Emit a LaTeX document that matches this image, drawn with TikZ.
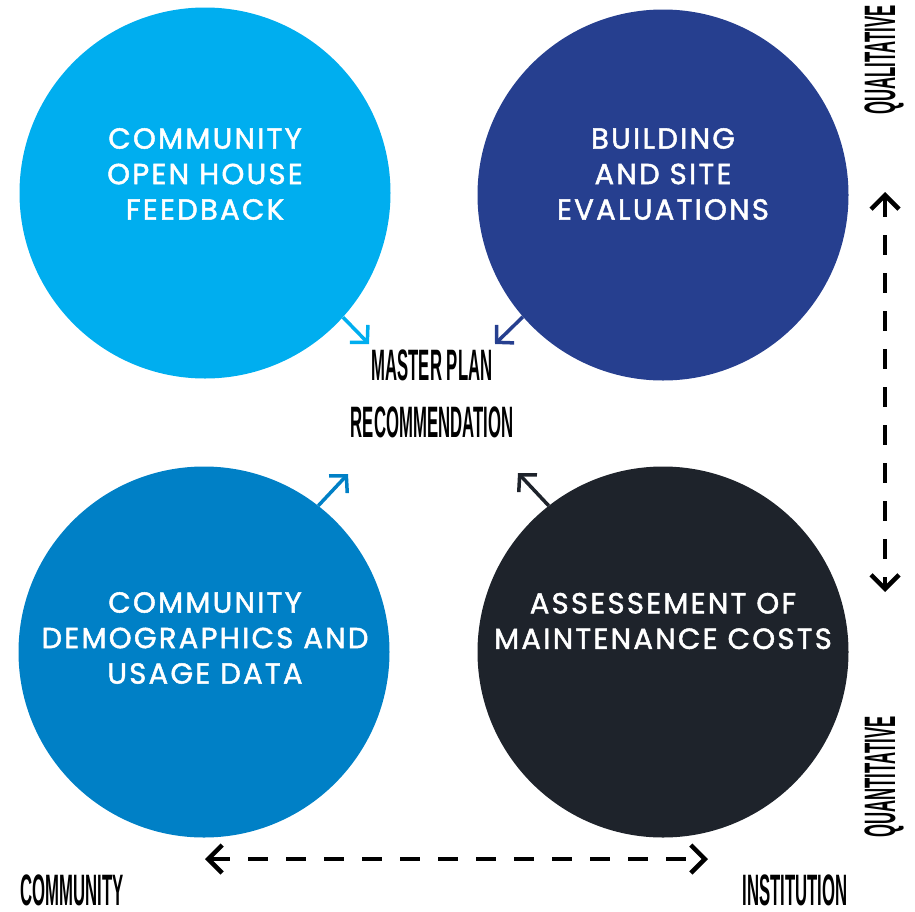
\documentclass[tikz,border=0pt]{standalone}
\usepackage{fontspec}
\setmainfont{Poppins}
\newfontfamily\circfont[FakeBold=1.7,LetterSpace=8]{Poppins}
\newfontfamily\condfont[FakeStretch=0.38]{Liberation Sans}
\usetikzlibrary{arrows.meta}
\definecolor{cTL}{HTML}{00AEEF}
\definecolor{cTR}{HTML}{263F8F}
\definecolor{cBL}{HTML}{0080C6}
\definecolor{cBR}{HTML}{1E232B}
\tikzset{
  bigcirc/.style={circle, minimum size=371pt, inner sep=0pt, draw=none},
  circtext/.style={text=white, align=center, font=\circfont\fontsize{29}{35.5}\selectfont},
  condlabel/.style={font=\condfont\bfseries\fontsize{44}{50}\selectfont, inner sep=0pt},
  smallarrow/.style={line width=3.5pt, -{Straight Barb[length=12pt,width=25pt]}},
  axisarrow/.style={line width=4.5pt, dash pattern=on 20pt off 18pt,
    {Straight Barb[length=14pt,width=28pt]}-{Straight Barb[length=14pt,width=28pt]}}
}
\begin{document}
\begin{tikzpicture}[x=1pt,y=-1pt]
\useasboundingbox (0,0) rectangle (915,911);
\node[bigcirc, fill=cTL] (tl) at (205,193) {};
\node[bigcirc, fill=cTR] (tr) at (663,195) {};
\node[bigcirc, fill=cBL] (bl) at (204,652) {};
\node[bigcirc, fill=cBR] (br) at (663,652) {};
\node[circtext] (tlt) at (205,174) {COMMUNITY\\OPEN HOUSE\\FEEDBACK};
\node[circtext] (trt) at (663,174) {BUILDING\\AND SITE\\EVALUATIONS};
\node[circtext] (blt) at (205,638) {COMMUNITY\\DEMOGRAPHICS AND\\USAGE DATA};
\node[circtext] (brt) at (663,621) {ASSESSEMENT OF\\MAINTENANCE COSTS};
\node[condlabel] (mp1) at (432,365) {MASTER PLAN};
\node[condlabel] (mp2) at (432,422) {RECOMMENDATION};
\node[condlabel, rotate=90] (qual) at (884,60) {QUALITATIVE};
\node[condlabel, rotate=90] (quan) at (884,777) {QUANTITATIVE};
\node[condlabel, anchor=base, text depth=0pt] (comm) at (72,905) {COMMUNITY};
\node[condlabel, anchor=base, text depth=0pt] (inst) at (795,905) {INSTITUTION};
\coordinate (a1) at (369,344);
\coordinate (a2) at (495,344);
\coordinate (a3) at (348,474);
\coordinate (a4) at (518,473);
\draw[smallarrow, cTL] (tl.-42) -- (a1);
\draw[smallarrow, cTR] (tr.-139) -- (a2);
\draw[smallarrow, cBL] (bl.52) -- (a3);
\draw[smallarrow, cBR] (br.128) -- (a4);
\coordinate (vt) at (885,192);
\coordinate (vb) at (885,592);
\coordinate (hl) at (205,859);
\coordinate (hr) at (708,859);
\draw[axisarrow] (vt) -- (vb);
\draw[axisarrow] (hl) -- (hr);
\end{tikzpicture}
\end{document}
